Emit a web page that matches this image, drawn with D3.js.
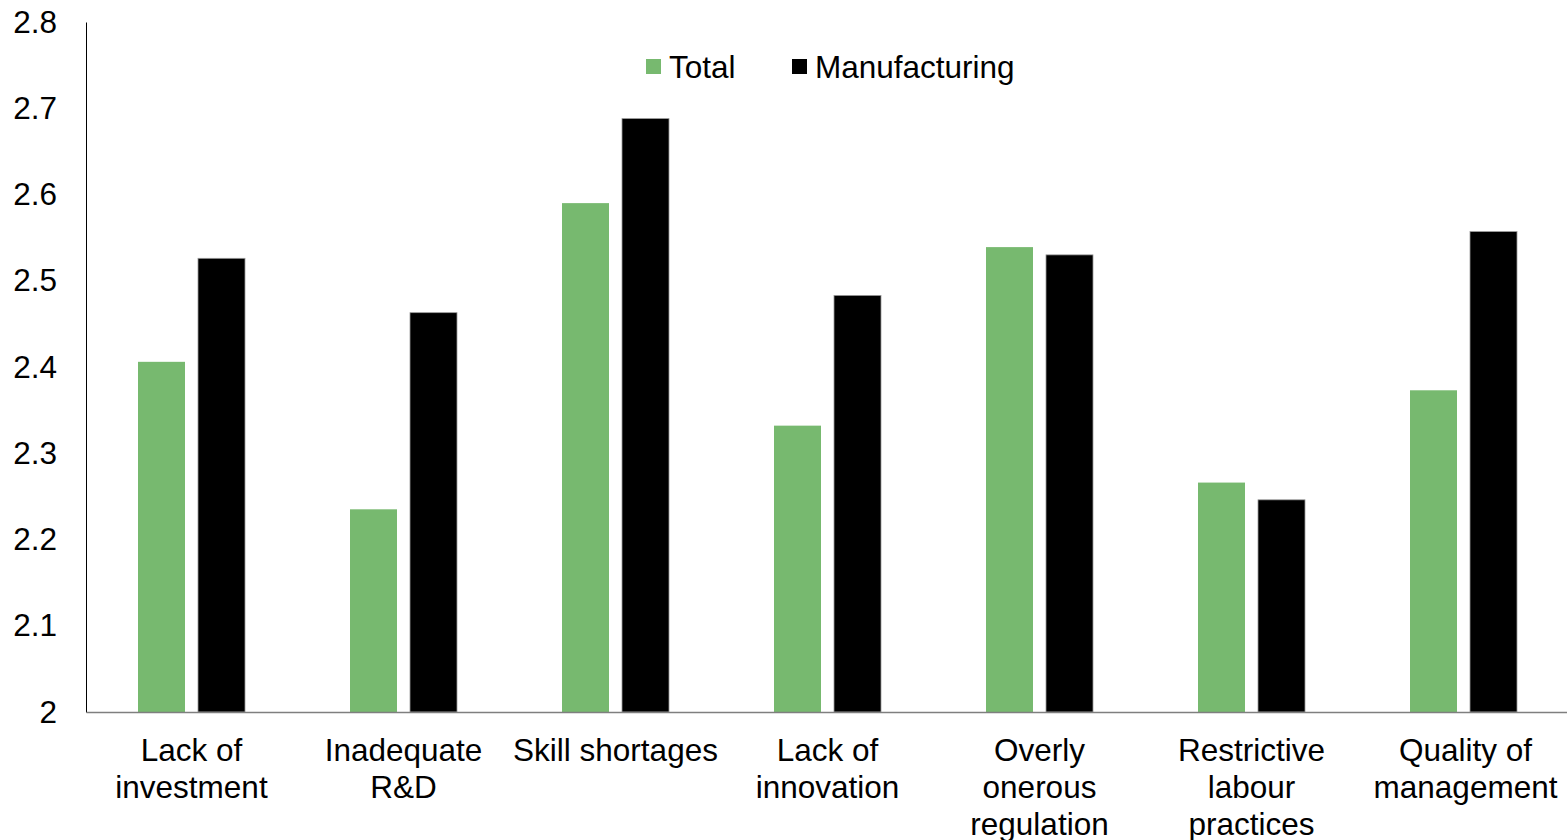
<!DOCTYPE html>
<html><head><meta charset="utf-8">
<script src="https://cdn.jsdelivr.net/npm/d3@7"></script>
<style>body{margin:0;background:#fff}svg text{font-family:"Liberation Sans",Arial,sans-serif;fill:#000}</style>
</head><body><svg id="c" width="1567" height="840"></svg>
<script>
const categories = [["Lack of","investment"],["Inadequate","R&D"],["Skill shortages"],["Lack of","innovation"],["Overly","onerous","regulation"],["Restrictive","labour","practices"],["Quality of","management"]];
const seriesNames = ["Total","Manufacturing"];
const totalValues = [2.406,2.235,2.590,2.332,2.539,2.266,2.373];
const manufacturingValues = [2.526,2.463,2.688,2.483,2.530,2.246,2.557];
const yTicks = [2,2.1,2.2,2.3,2.4,2.5,2.6,2.7,2.8];
const colors = ["#77B96F","#000000"];

(function(){
const svg = d3.select("#c");
const mLeft = 86, mRight = 1570, mTop = 22, mBottom = 712;
const x = d3.scaleBand().domain(d3.range(categories.length)).range([mLeft,mRight]).padding(0);
const step = x.bandwidth();
const inner = d3.scaleBand().domain([0,1]).range([52, 159]).paddingInner(13/60).paddingOuter(0);
const y = d3.scaleLinear().domain([2,2.8]).range([mBottom,mTop]);

const series = [totalValues, manufacturingValues];
series.forEach((vals,si)=>{
  svg.append("g").selectAll("rect").data(vals).join("rect")
    .attr("x",(d,i)=>x(i)+inner(si))
    .attr("width",inner.bandwidth())
    .attr("y",d=>y(d))
    .attr("height",d=>y(2)-y(d))
    .attr("fill",colors[si])
    .attr("stroke", si===1 ? "#9a9a9a" : "none")
    .attr("stroke-width", 0.8);
});

const ya = svg.append("g").attr("transform",`translate(${mLeft},0)`)
  .call(d3.axisLeft(y).tickValues(yTicks).tickSize(0).tickPadding(29).tickFormat(d3.format("")));
ya.select(".domain").attr("stroke","#000").attr("stroke-width",1);
ya.selectAll("text").attr("font-size",31.5).attr("font-family","Liberation Sans, Arial, sans-serif");

const xa = svg.append("g").attr("transform",`translate(0,${mBottom})`)
  .call(d3.axisBottom(x).tickSize(0).tickFormat(""));
xa.select(".domain").attr("stroke","#7f7f7f").attr("stroke-width",1.5);
categories.forEach((lines,i)=>{
  const cx = x(i)+inner(0)+ (inner(1)+inner.bandwidth()-inner(0))/2 + (i===6?2:0);
  const t = svg.append("text").attr("text-anchor","middle").attr("font-size",31.5)
    .attr("x",cx).attr("y",761);
  lines.forEach((l,j)=>t.append("tspan").attr("x",cx).attr("dy",j===0?0:37).text(l));
});

const legendX = [646, 792];
seriesNames.forEach((n,i)=>{
  svg.append("rect").attr("x",legendX[i]).attr("y",59).attr("width",15).attr("height",15).attr("fill",colors[i]);
  svg.append("text").attr("x",legendX[i]+23).attr("y",77.5).attr("font-size",31.5).text(n);
});
})();
</script></body></html>
